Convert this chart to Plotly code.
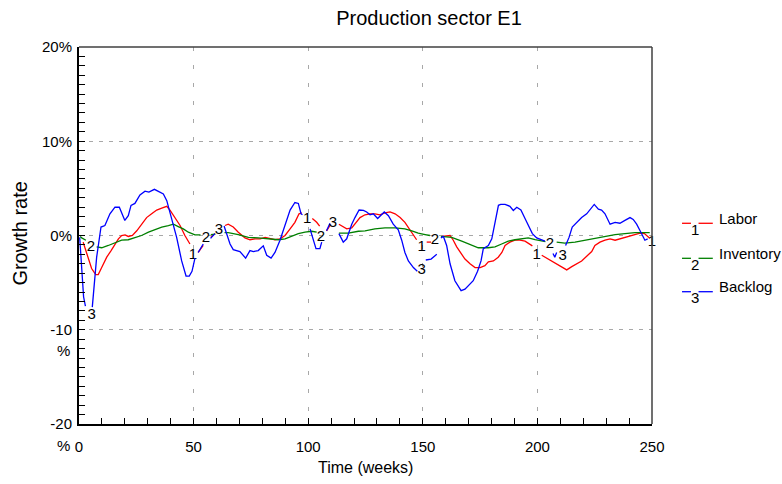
import plotly.graph_objects as go

N = None
# ---------------- data (weeks, growth rate %) ----------------
labor_w = [1.8, 3.3, 5.5, 7.3, 8.4, 9.9, 12.1, 14, 15.7, 17.2, 18.6, 20.1, 21.5, 23.3, 25.2, 27.3, 29.5, 31.7, 33.9, 36.1, 38.3, 39.7, 41.9, 44.1, 46.2, 48.4, N,
           52, 54.2, N, 57.5, 59.3, N,
           63.7, 65.1, 67.3, 69.5, 72.4, 74.6, 76.8, 79, 81.2, 83.3, 85.5, 87.7, 89.9, 92.1, 94.2, 96, 97.2, N,
           101.8, 103.7, 105, N, 108, 109.5, N,
           113.4, 115.3, 116.8, 119, 121, 122.6, 124.8, 127, 129.1, 131.3, 133.5, 135.7, 137.9, 140.1, 142.2, 144, 145.4, 147.3, N,
           151.7, 153.6, N,
           158.5, 161.9, 163.3, 164.8, 166.7, 168.4, 170.6, 172.8, 175, 177.1, 178.6, 180.8, 182.9, 184.5, 185.9, 188, 190.2, 192.4, 194.6, 196.8, 197.8, N,
           201.9, 204, 206.2, 208.4, 210.6, 212.8, 215, 217.1, 219.3, 221.5, 223.7, 225.1, 227.3, 229.5, 231.7, 233.9, 236, 238.2, 240.4, 242.6, 244.8, 246.7, 248.1, 249]
labor_v = [-0.7, -1.9, -3.5, -4.15, -4.15, -3.4, -2.3, -1.6, -0.9, -0.35, 0, 0.07, -0.1, 0, 0.5, 1.2, 1.9, 2.3, 2.7, 2.9, 3.1, 2.7, 1.9, 1.06, 0, -0.9, N,
           -1.8, -1.06, N, -0.2, 0.2, N,
           1.06, 1.2, 0.9, 0.35, -0.25, -0.45, -0.35, -0.35, -0.2, -0.35, -0.45, -0.35, 0, 0.7, 1.4, 2.3, 2.4, N,
           1.8, 1.4, 1.0, N, 0.5, 1.06, N,
           1.2, 0.9, 0.7, 0.8, 1.4, 1.9, 2.2, 2.3, 2.3, 2.2, 2.4, 2.5, 2.3, 1.9, 1.4, 0.7, 0.2, -0.45, N,
           -0.7, -0.7, N,
           -0.1, 0, -0.5, -1.2, -1.9, -2.5, -3.0, -3.4, -3.4, -3.2, -2.8, -2.7, -2.3, -1.8, -1.06, -0.7, -0.5, -0.5, -0.6, -0.9, -1.1, N,
           -2.1, -2.4, -2.7, -3.1, -3.4, -3.65, -3.3, -3.0, -2.7, -2.2, -1.7, -1.06, -0.7, -0.5, -0.35, -0.5, -0.35, -0.2, 0, 0.1, 0.25, 0.2, -0.1, -0.3]

inventory_w = [0.5, 1.2, 3, N,
               7.7, 9.9, 12.8, 15.7, 18.6, 21.5, 24.4, 27.3, 30.3, 33.2, 36.1, 39, 41.2, 43.3, 45.5, 47.7, 50.6, 53, N,
               57.5, 59.5, N,
               63.5, 65.1, 69.5, 73.9, 78.2, 83.3, 87, 89.9, 92.8, 95.7, 98.6, 101.5, 103.7, N,
               113.4, 117.5, 121.9, 124.8, 129.1, 133.5, 137.9, 142.2, 145.2, 148, 151, 153.1, N,
               157.9, 162.6, 167, 170.6, 174.2, 178.6, 181.5, 184.4, 187.3, 190.2, 193.2, 196, 199, 201.9, 203.5, N,
               208.4, 212, 216.4, 220.8, 225.1, 229.5, 233.9, 238.2, 242.6, 247.7, 249]
inventory_v = [-0.1, -0.25, -0.5, N,
               -1.2, -1.3, -1.06, -0.8, -0.5, -0.45, -0.25, 0, 0.35, 0.6, 0.9, 1.06, 1.2, 0.95, 0.7, 0.35, 0.07, 0.07, N,
               0.1, 0.15, N,
               0.3, 0.3, 0.1, -0.2, -0.25, -0.35, -0.45, -0.35, -0.1, 0.2, 0.35, 0.45, 0.35, N,
               0.25, 0.25, 0.45, 0.5, 0.7, 0.8, 0.8, 0.7, 0.5, 0.25, 0.1, 0, N,
               -0.1, -0.2, -0.6, -0.95, -1.3, -1.3, -1.2, -0.9, -0.6, -0.45, -0.35, -0.25, -0.45, -0.6, -0.65, N,
               -0.7, -0.8, -0.7, -0.5, -0.35, -0.1, 0.1, 0.2, 0.3, 0.3, 0.3]

backlog_w = [0.3, 1, 2, 2.8, N,
             5.8, 7.7, 9.6, 11.3, 13.5, 15.7, 17.6, 20, 21.5, 22.7, 24.4, 26.6, 28.8, 30.5, 32.9, 35.3, 36.8, 38.3, 40.4, 42.6, 44.8, 46.7, 48.1, 49.3, 50.6, N,
             52, 54.2, N, 57.4, 59.3, N,
             63.3, 65.9, 67.3, 70.2, 72.7, 74.6, 76.1, 78.2, 80.4, 81.9, 83.8, 85.5, 87.7, 89.9, 92.1, 94.2, 95.7, 96.9, 97.5, N,
             100.8, 102.2, 103.4, 105.1, 105.9, N, 108, 109.5, N,
             113.4, 115.3, 116.8, 119, 120.4, 122.2, 124.1, 125.5, 127, 128.4, 130.3, 132.1, 133.2, 135, 137.1, 139.3, 140.8, 142.2, 143.7, 145.9, 147.6, N,
             151.3, 153.6, 156.1, N,
             157.9, 159, 160.4, 161.9, 164, 166.7, 168.4, 170.6, 172, 173.9, 175.4, 176.4, 178.6, 180.1, 181.5, 183, 184, 185.9, 188, 189.5, 191, 192.8, 194.6, 196, 197.8, 199.7, 201.9, 203.3, N,
             206.8, 207.6, 208.4, N,
             212.3, 213.8, 215.2, 217.1, 219.3, 221.5, 223.7, 224.8, 226.6, 228, 229.5, 231.7, 233.9, 236, 238.2, 240.4, 241.8, 243.3, 244.8, 246.2, 246.9, 248.1]
backlog_v = [-0.2, -3, -6.5, -7.5, N,
             -7.6, -2.3, 0.9, 1.06, 2.3, 3.0, 3.0, 1.6, 2.1, 3.2, 3.4, 4.3, 4.7, 4.6, 4.9, 4.6, 4.4, 3.7, 1.9, -0.2, -2.7, -4.3, -4.3, -3.8, -2.4, N,
             -1.8, -0.9, N, -0.3, 0.2, N,
             1.0, -0.9, -1.5, -1.7, -2.4, -1.6, -1.7, -1.6, -1.1, -2.1, -2.4, -1.8, -0.5, 1.06, 2.7, 3.5, 3.4, 2.3, 2.2, N,
             0.7, -0.35, -1.4, -1.4, -0.7, N, 0.5, 1.3, N,
             0.2, -0.7, -0.35, 1.2, 1.9, 2.7, 2.66, 2.5, 2.2, 2.3, 1.8, 2.3, 2.5, 2.1, 1.2, 0.6, -0.5, -1.8, -2.7, -3.4, -3.8, N,
             -2.6, -2.5, -2.0, N,
             -0.25, -0.1, -1.06, -3.0, -4.8, -5.85, -5.7, -5.1, -4.8, -3.8, -2.7, -1.4, -1.06, -0.35, 1.2, 3.2, 3.3, 3.3, 3.1, 2.66, 3.0, 2.7, 1.8, 1.06, 0.2, -0.25, -0.5, -0.6, N,
             -1.9, -2.3, -1.8, N,
             -1.06, -0.2, 0.9, 1.4, 1.9, 2.3, 3.0, 3.3, 2.8, 2.7, 2.3, 1.2, 1.4, 1.3, 1.6, 1.9, 1.7, 1.2, 0.5, -0.2, -0.5, -0.35]

# curve labels on the lines
labor_lab_w = [49.7, 99.5, 149.5, 199.7, 250]
labor_lab_v = [-2.1, 1.7, -1.25, -2.1, -0.7]
inventory_lab_w = [5.2, 55.4, 105.6, 155.3, 205.5]
inventory_lab_v = [-1.2, -0.3, -0.2, -0.5, -0.9]
backlog_lab_w = [5.5, 61, 110.8, 149.5, 211]
backlog_lab_v = [-8.5, 0.6, 1.3, -3.7, -2.2]

series_names = ["Labor", "Inventory", "Backlog"]
series_ids = ["1", "2", "3"]
colors = ["#ff0000", "#008000", "#0000ff"]

y_tickvals = [-20, -10, 0, 10, 20]
y_ticktext = ["-20", "-10", "0%", "10%", "20%"]
x_tickvals = [0, 50, 100, 150, 200, 250]
x_ticktext = ["0", "50", "100", "150", "200", "250"]

FONT = "Liberation Sans, Arial, sans-serif"

fig = go.Figure()
data = [(labor_w, labor_v, labor_lab_w, labor_lab_v),
        (inventory_w, inventory_v, inventory_lab_w, inventory_lab_v),
        (backlog_w, backlog_v, backlog_lab_w, backlog_lab_v)]
for (w, v, lw, lv), name, sid, col in zip(data, series_names, series_ids, colors):
    fig.add_trace(go.Scatter(x=w, y=v, mode="lines", name=name, connectgaps=False,
                             line=dict(color=col, width=1.3), showlegend=False))
    fig.add_trace(go.Scatter(x=lw, y=lv, mode="text", text=[sid] * len(lw),
                             textfont=dict(family=FONT, size=15, color="black"),
                             cliponaxis=False, showlegend=False, hoverinfo="skip"))

fig.update_layout(
    width=782, height=484,
    margin=dict(l=79, r=130, t=47, b=60),
    paper_bgcolor="white", plot_bgcolor="white",
    font=dict(family=FONT, size=15, color="black"),
    title=dict(text="Production sector E1", x=429 / 782, xref="container", xanchor="center",
               y=1 - 18 / 484, yref="container", yanchor="middle",
               font=dict(family=FONT, size=20, color="black")),
    showlegend=False,
)
fig.update_xaxes(range=[0, 250], tickmode="array", tickvals=x_tickvals, ticktext=x_ticktext,
                 showline=True, linecolor="black", linewidth=2, ticks="inside", ticklen=6,
                 tickcolor="black", tickwidth=1, showgrid=True, gridcolor="#a8a8a8", gridwidth=1,
                 griddash="4px,14px", zeroline=False, ticklabelstandoff=8,
                 minor=dict(tickmode="linear", tick0=0, dtick=10, ticks="inside", ticklen=6,
                            tickcolor="black", tickwidth=1, showgrid=False))
fig.update_yaxes(range=[-20, 20], tickmode="array", tickvals=y_tickvals, ticktext=y_ticktext,
                 showline=True, linecolor="black", linewidth=2, ticks="inside", ticklen=6,
                 tickcolor="black", tickwidth=1, showgrid=True, gridcolor="#a8a8a8", gridwidth=1,
                 griddash="4px,6px", zeroline=False, ticklabelstandoff=2,
                 minor=dict(tickmode="linear", tick0=0, dtick=1, ticks="inside", ticklen=6,
                            tickcolor="black", tickwidth=1, showgrid=False))

# top and right frame
fig.add_shape(type="line", xref="paper", yref="paper", x0=0, x1=1, y0=1, y1=1,
              line=dict(color="#404040", width=1.5))
fig.add_shape(type="line", xref="paper", yref="paper", x0=1, x1=1, y0=0, y1=1,
              line=dict(color="#404040", width=1.5))

# wrapped "%" parts of the negative tick labels
for tv in [-10, -20]:
    fig.add_annotation(text="%", xref="paper", x=0, xshift=-7, xanchor="right",
                       yref="y", y=tv, yshift=-21, yanchor="middle", showarrow=False,
                       font=dict(family=FONT, size=15, color="black"))

# axis titles
fig.add_annotation(text="Growth rate", xref="paper", x=(20 - 79) / 573, yref="paper", y=0.505,
                   textangle=-90, showarrow=False, xanchor="center", yanchor="middle",
                   font=dict(family=FONT, size=20, color="black"))
fig.add_annotation(text="Time (weeks)", xref="paper", x=0.5, yref="paper", y=(424 - 468) / 377,
                   showarrow=False, xanchor="center", yanchor="middle",
                   font=dict(family=FONT, size=16, color="black"))

# custom legend
leg_y = [0.5324, 0.4395, 0.3509]
for name, sid, col, ly in zip(series_names, series_ids, colors, leg_y):
    fig.add_shape(type="line", xref="paper", yref="paper", x0=1.0524, x1=1.0680, y0=ly, y1=ly,
                  line=dict(color=col, width=1.3))
    fig.add_shape(type="line", xref="paper", yref="paper", x0=1.0812, x1=1.1061, y0=ly, y1=ly,
                  line=dict(color=col, width=1.3))
    fig.add_annotation(text=sid, xref="paper", x=1.0750, yref="paper", y=ly, yshift=-6,
                       showarrow=False, xanchor="center", yanchor="middle",
                       font=dict(family=FONT, size=15, color="black"))
    fig.add_annotation(text=name, xref="paper", x=1.1134, yref="paper", y=ly, yshift=5,
                       showarrow=False, xanchor="left", yanchor="middle",
                       font=dict(family=FONT, size=15, color="black"))

fig.write_html("out.html")
